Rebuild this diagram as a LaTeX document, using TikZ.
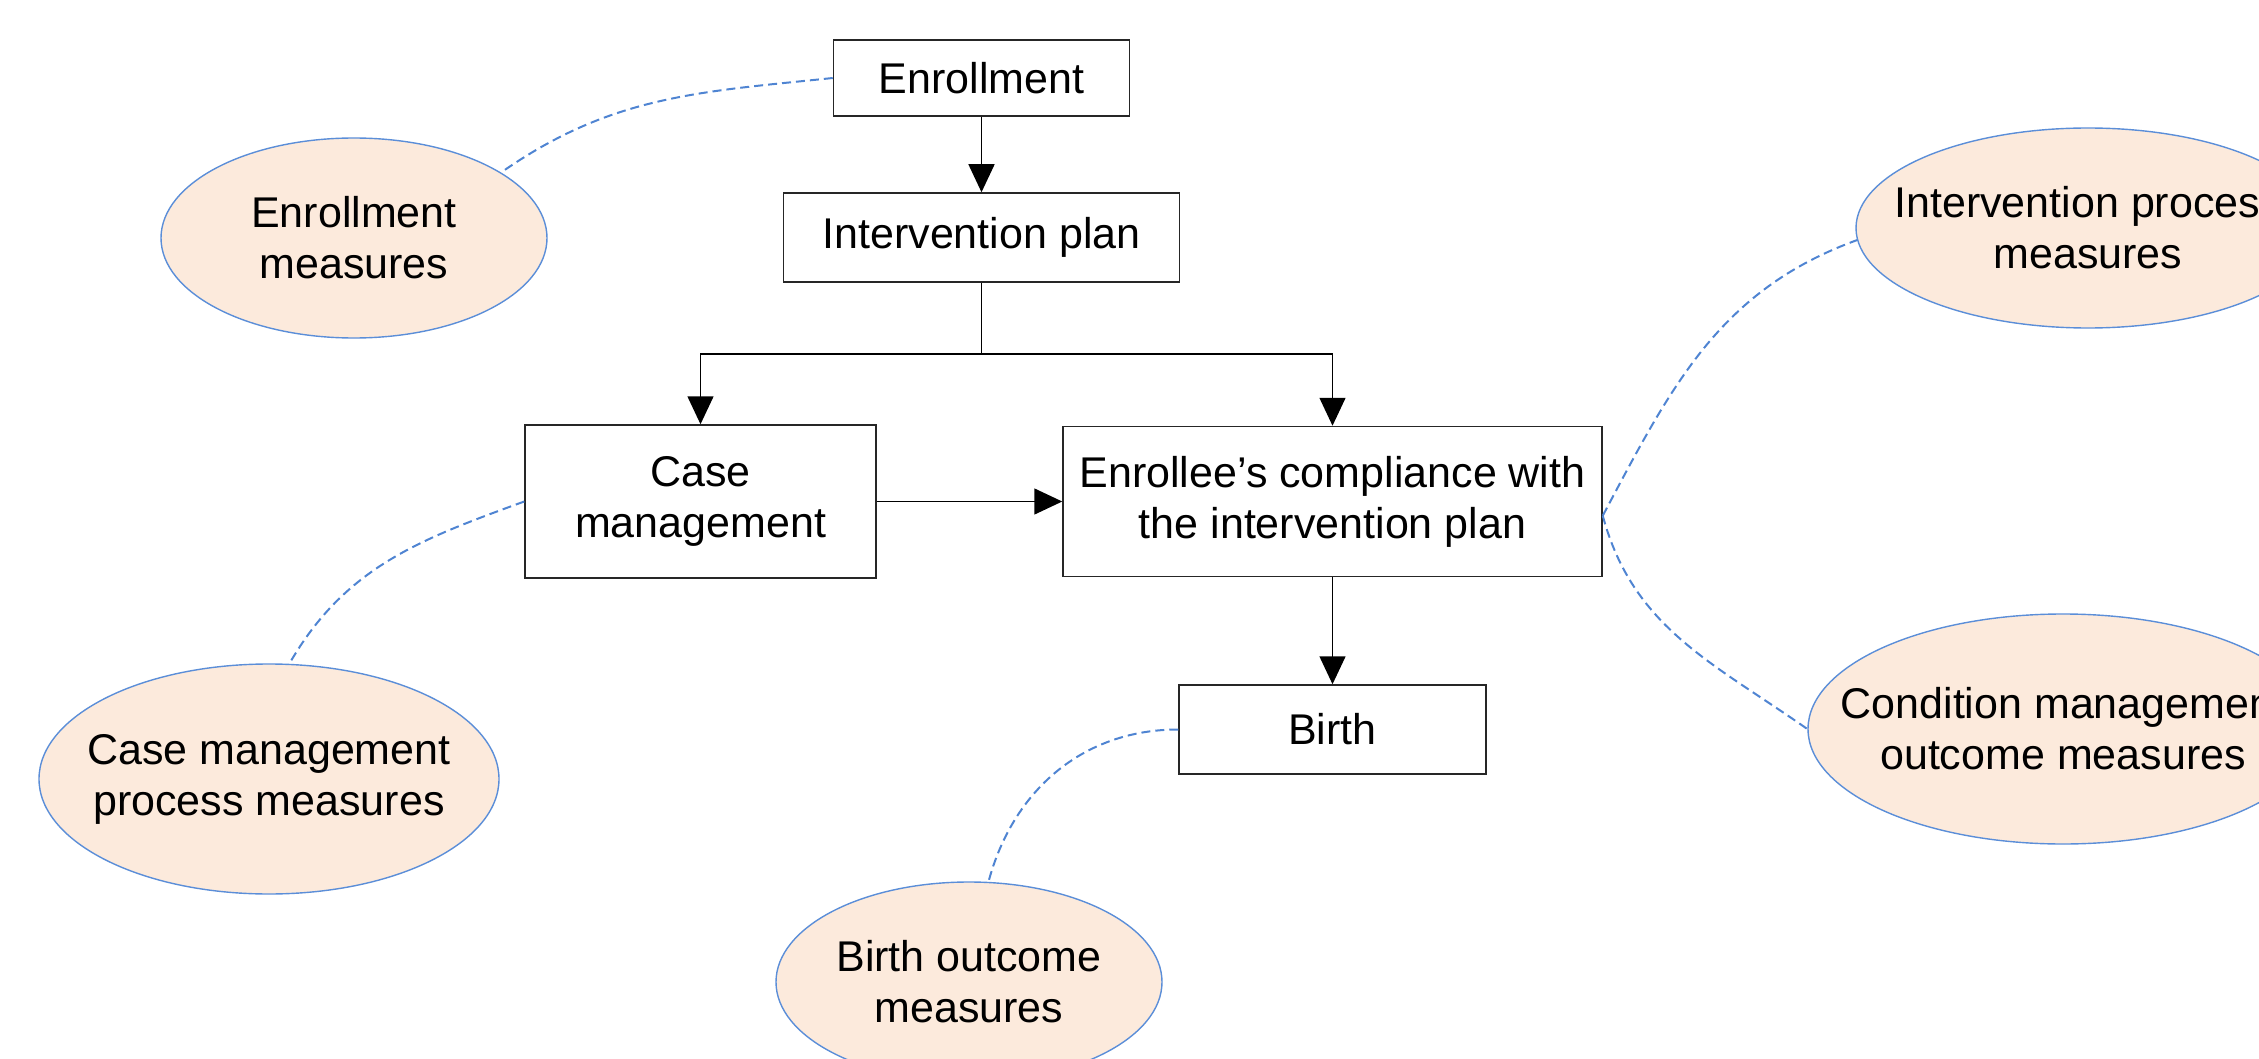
\documentclass[tikz,border=0pt]{standalone}
\usepackage{fontspec}
\setmainfont{Liberation Sans}
\usetikzlibrary{arrows.meta,shapes.geometric}
\definecolor{peach}{HTML}{FCEADC}
\definecolor{eblue}{HTML}{5B8ED8}
\definecolor{dblue}{HTML}{4F84D2}
\tikzset{
  box/.style={draw=black!85,line width=0.75pt,rectangle,inner sep=0pt,align=center,
    font=\fontsize{21.5}{25.5}\selectfont},
  meas/.style={draw=eblue,line width=0.7pt,fill=peach,ellipse,inner sep=0pt},
  mtext/.style={align=center,font=\fontsize{21.5}{25.5}\selectfont},
  arr/.style={draw=black,line width=0.75pt,-{Triangle[length=14pt,width=13pt]}},
  link/.style={draw=dblue,line width=1pt,dash pattern=on 4.5pt off 2.5pt}
}
\begin{document}
\begin{tikzpicture}[x=0.5pt,y=-0.5pt]
\useasboundingbox (0,0) rectangle (2259,1059);
\clip (0,0) rectangle (2259,1059);
% process boxes
\node[box,minimum width=148pt,minimum height=38pt] (enr) at (981.5,78) {Enrollment};
\node[box,minimum width=198pt,minimum height=44.5pt] (plan) at (981.5,237.5) {Intervention plan};
\node[box,minimum width=175.5pt,minimum height=76.5pt] (case) at (700.5,501.5) {Case\\management};
\node[box,minimum width=269.5pt,minimum height=75pt] (comp) at (1332.5,501.5) {Enrollee’s compliance with\\the intervention plan};
\node[box,minimum width=153.5pt,minimum height=44.5pt] (birth) at (1332.5,729.5) {Birth};
% measure ellipses
\node[meas,minimum width=193pt,minimum height=100pt] (em) at (354,238) {};
\node[mtext] (emt) at (em.center) {Enrollment\\measures};
\node[meas,minimum width=230pt,minimum height=115pt] (cm) at (269,779) {};
\node[mtext] (cmt) at (cm.center) {Case management\\process measures};
\node[meas,minimum width=193pt,minimum height=100pt] (bo) at (969,982) {};
\node[mtext] (bot) at (bo.center) {Birth outcome\\measures};
\node[meas,minimum width=232pt,minimum height=100pt] (ip) at (2088,228) {};
\node[mtext] (ipt) at (ip.center) {Intervention process\\measures};
\node[meas,minimum width=255pt,minimum height=115pt] (co) at (2063,729) {};
\node[mtext] (cot) at (co.center) {Condition management\\outcome measures};
% flow arrows
\coordinate (j) at (981.5,354);
\draw[arr] (enr.south) -- (plan.north);
\draw[line width=0.75pt] (plan.south) -- (j);
\draw[arr] (j) -| (case.north);
\draw[arr] (j) -| (comp.north);
\draw[arr] (case.east) -- (case.east -| comp.west);
\draw[arr] (comp.south) -- (birth.north);
% dashed links
\draw[link] (enr.west) to[out=186,in=35] (em.24);
\draw[link] (case.west) to[out=200,in=60] (cm.80);
\draw[link] (birth.west) to[out=180,in=75] (bo.79);
\draw[link] (comp.-3) to[out=62,in=200] (ip.183);
\draw[link] (comp.-3) to[out=-75,in=145] (co.west);
\end{tikzpicture}
\end{document}
